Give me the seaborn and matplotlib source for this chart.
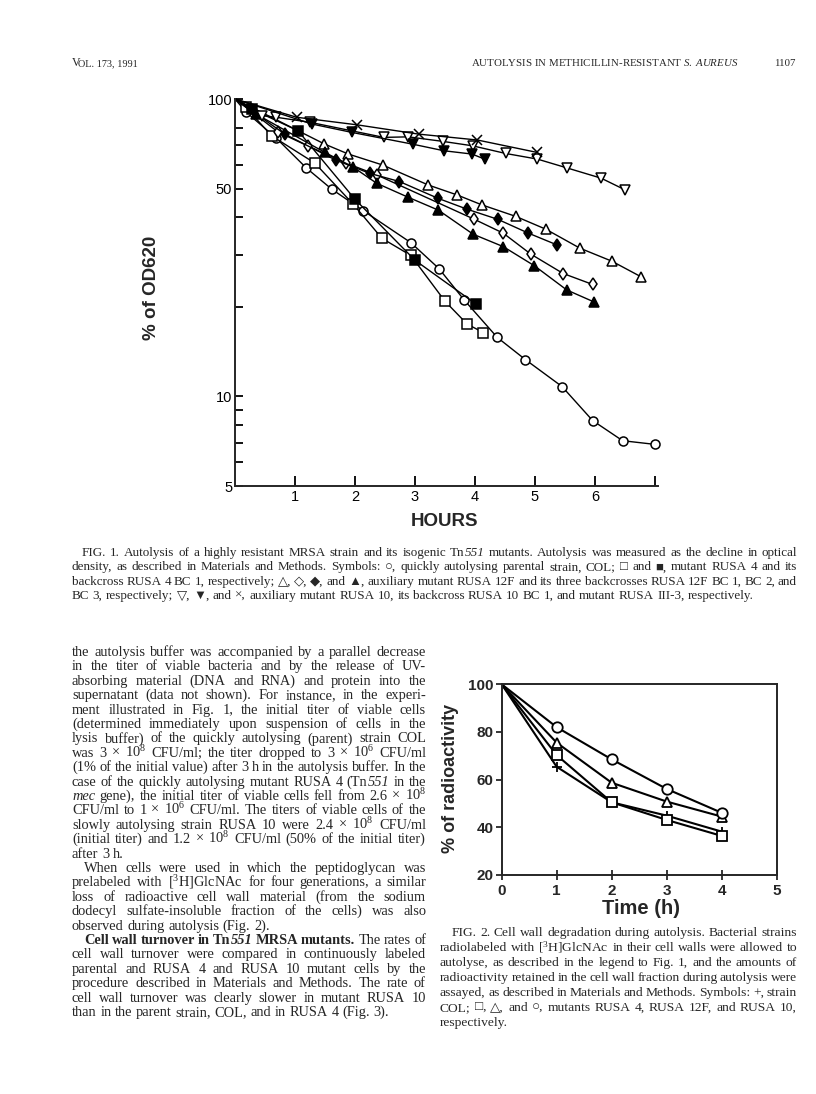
import matplotlib
matplotlib.use("Agg")
import matplotlib.pyplot as plt
import seaborn as sns

# ---- Fig. 1 data (hours, % of OD620) ----
col_h = [0, 0.18, 0.69, 1.19, 1.61, 2.14, 2.93, 3.40, 3.82, 4.37, 4.84, 5.45, 5.96, 6.46, 7.0]
col_pct = [100, 90.6, 73.8, 58.6, 49.8, 42.1, 32.9, 26.9, 21.1, 15.8, 13.3, 10.8, 8.3, 7.1, 6.9]
rusa4_h = [0, 0.18, 0.61, 1.33, 1.97, 2.45, 2.93, 3.50, 3.87, 4.14]
rusa4_pct = [100, 93.8, 75.2, 60.9, 44.3, 34.0, 29.8, 20.9, 17.5, 16.4]
rusa4bc1_h = [0, 0.28, 1.05, 2.0, 3.0, 4.01]
rusa4bc1_pct = [100, 92.5, 78.2, 46.0, 28.7, 20.5]
r12f_h = [0, 1.49, 1.89, 2.46, 3.22, 3.70, 4.11, 4.68, 5.18, 5.75, 6.28, 6.76]
r12f_pct = [100, 70.6, 65.3, 60.0, 51.4, 47.6, 44.1, 40.3, 36.5, 31.5, 28.5, 25.3]
r12fbc1_h = [0, 0.72, 1.21, 1.85, 2.36, 3.99, 4.47, 4.93, 5.47, 5.96]
r12fbc1_pct = [100, 77.4, 69.6, 60.9, 55.6, 39.4, 35.4, 30.1, 25.9, 23.8]
r12fbc2_h = [0, 0.83, 1.68, 2.25, 2.74, 3.39, 3.87, 4.38, 4.89, 5.37]
r12fbc2_pct = [100, 76.2, 62.3, 56.2, 52.8, 46.3, 42.6, 39.4, 35.4, 32.3]
r12fbc3_h = [0, 0.35, 1.50, 1.96, 2.36, 2.89, 3.39, 3.97, 4.47, 4.99, 5.53, 5.98]
r12fbc3_pct = [100, 89.0, 66.1, 59.2, 52.1, 46.7, 42.3, 35.1, 31.9, 27.5, 22.8, 20.8]
r10_h = [0, 0.45, 0.69, 1.25, 2.48, 2.89, 3.47, 3.96, 4.51, 5.04, 5.54, 6.10, 6.50]
r10_pct = [100, 87.9, 86.8, 83.5, 74.3, 74.6, 72.0, 69.6, 65.6, 62.8, 58.6, 54.2, 49.5]
r10bc1_h = [0, 1.28, 1.95, 2.96, 3.48, 3.95, 4.16]
r10bc1_pct = [100, 82.4, 77.2, 70.5, 67.0, 65.3, 62.8]
r3_h = [0, 1.03, 2.03, 3.06, 4.04, 5.04]
r3_pct = [100, 86.8, 81.9, 76.2, 72.8, 66.1]

# ---- Fig. 2 data (hours, % of radioactivity) ----
fig2_h = [0, 1, 2, 3, 4]
col_rad = [100, 65.4, 50.5, 44.9, 38.2]
rusa4_rad = [100, 70.3, 50.5, 43.1, 36.4]
r12f_rad = [100, 75.5, 58.7, 50.8, 44.5]
r10_rad = [100, 82.0, 68.5, 56.1, 46.1]

# ---- page text ('>' indent, '|' last line of paragraph, '~' glue, '*' bold, '/' italic) ----
body_lines = [
    "the autolysis buffer was accompanied by a parallel decrease",
    "in the titer of viable bacteria and by the release of UV-",
    "absorbing material (DNA and RNA) and protein into the",
    "supernatant (data not shown). For instance, in the experi-",
    "ment illustrated in Fig. 1, the initial titer of viable cells",
    "(determined immediately upon suspension of cells in the",
    "lysis buffer) of the quickly autolysing (parent) strain COL",
    "was 3 × 10$^8$ CFU/ml; the titer dropped to 3 × 10$^6$ CFU/ml",
    "(1% of the initial value) after 3 h in the autolysis buffer. In the",
    "case of the quickly autolysing mutant RUSA 4 (Tn~/551 in the",
    "/mec gene), the initial titer of viable cells fell from 2.6 × 10$^8$",
    "CFU/ml to 1 × 10$^6$ CFU/ml. The titers of viable cells of the",
    "slowly autolysing strain RUSA 10 were 2.4 × 10$^8$ CFU/ml",
    "(initial titer) and 1.2 × 10$^8$ CFU/ml (50% of the initial titer)",
    "after 3 h.|",
    ">When cells were used in which the peptidoglycan was",
    "prelabeled with [$^3$H]GlcNAc for four generations, a similar",
    "loss of radioactive cell wall material (from the sodium",
    "dodecyl sulfate-insoluble fraction of the cells) was also",
    "observed during autolysis (Fig. 2).|",
    ">*Cell *wall *turnover *in *Tn~*/551 *MRSA *mutants. The rates of",
    "cell wall turnover were compared in continuously labeled",
    "parental and RUSA 4 and RUSA 10 mutant cells by the",
    "procedure described in Materials and Methods. The rate of",
    "cell wall turnover was clearly slower in mutant RUSA 10",
    "than in the parent strain, COL, and in RUSA 4 (Fig. 3).|",
]
fig1_caption = [
    ">FIG. 1. Autolysis of a highly resistant MRSA strain and its isogenic Tn~/551 mutants. Autolysis was measured as the decline in optical",
    "density, as described in Materials and Methods. Symbols: ○, quickly autolysing parental strain, COL; □ and ■, mutant RUSA 4 and its",
    "backcross RUSA 4 BC 1, respectively; △, ◇, ◆, and ▲, auxiliary mutant RUSA 12F and its three backcrosses RUSA 12F BC 1, BC 2, and",
    "BC 3, respectively; ▽, ▼, and ×, auxiliary mutant RUSA 10, its backcross RUSA 10 BC 1, and mutant RUSA III-3, respectively.|",
]
fig2_caption = [
    ">FIG. 2. Cell wall degradation during autolysis. Bacterial strains",
    "radiolabeled with [$^3$H]GlcNAc in their cell walls were allowed to",
    "autolyse, as described in the legend to Fig. 1, and the amounts of",
    "radioactivity retained in the cell wall fraction during autolysis were",
    "assayed, as described in Materials and Methods. Symbols: +, strain",
    "COL; □, △, and ○, mutants RUSA 4, RUSA 12F, and RUSA 10,",
    "respectively.|",
]

W, H = 816, 1094
sns.set_style("ticks")
plt.rcParams["font.family"] = ["Liberation Sans", "DejaVu Sans"]
plt.rcParams["mathtext.fontset"] = "custom"
plt.rcParams["mathtext.rm"] = "Liberation Serif"
plt.rcParams["mathtext.it"] = "Liberation Serif:italic"
plt.rcParams["mathtext.bf"] = "Liberation Serif:bold"
SERIF = ["Liberation Serif", "DejaVu Sans"]

fig = plt.figure(figsize=(W / 100, H / 100), dpi=100)
fig.patch.set_facecolor("white")
renderer = fig.canvas.get_renderer()


def make_word(word, size, y):
    segs = []
    for seg in word.split("~"):
        weight, style = "normal", "normal"
        while len(seg) > 1 and seg[0] in "*/":
            if seg[0] == "*":
                weight = "bold"
            else:
                style = "italic"
            seg = seg[1:]
        segs.append(fig.text(0, 1 - y / H, seg, fontsize=size, family=SERIF,
                             fontweight=weight, fontstyle=style, va="baseline", ha="left"))
    widths = [t.get_window_extent(renderer).width for t in segs]
    return segs, widths


def parse(line):
    justify = not line.endswith("|")
    line = line.rstrip("|")
    indented = line.startswith(">")
    return line.lstrip(">").split(), justify, indented


def natural_width(line, size):
    words, justify, indented = parse(line)
    total = 0
    for w in words:
        segs, widths = make_word(w, size, 0)
        total += sum(widths)
        for t in segs:
            t.remove()
    return total, len(words), justify, indented


def put_block(lines, x0, x1, y0, dy, base, indent=12, min_space=0.22):
    # pick the size that lets the tightest justified line fit
    size = base
    for ln in lines:
        total, n, justify, indented = natural_width(ln, base)
        if not justify:
            continue
        avail = x1 - x0 - (indent if indented else 0)
        need = total + (n - 1) * min_space * base * 100 / 72
        size = min(size, base * avail / need)
    for i, ln in enumerate(lines):
        words, justify, indented = parse(ln)
        y = y0 + i * dy
        start = x0 + (indent if indented else 0)
        built = [make_word(w, size, y) for w in words]
        wsum = sum(sum(wd) for _, wd in built)
        gap = 0.25 * size * 100 / 72
        if justify and len(built) > 1:
            gap = (x1 - start - wsum) / (len(built) - 1)
        x = start
        for segs, widths in built:
            for t, wd in zip(segs, widths):
                t.set_x(x / W)
                x += wd
            x += gap


# ---- running head ----
fig.text(72 / W, 1 - 66 / H, "V", fontsize=8.5, family=SERIF, va="baseline")
fig.text(78.5 / W, 1 - 66 / H, "OL. 173, 1991", fontsize=7.4, family=SERIF, va="baseline")
fig.text(738 / W, 1 - 66 / H,
         "AUTOLYSIS IN METHICILLIN-RESISTANT $\\mathit{S.}$ $\\mathit{AUREUS}$",
         fontsize=7.8, family=SERIF, va="baseline", ha="right")
fig.text(796 / W, 1 - 66 / H, "1107", fontsize=7.8, family=SERIF, va="baseline", ha="right")

# ---- Fig. 1 ----
ax1 = fig.add_axes([235 / W, 1 - 486 / H, (658 - 235) / W, (486 - 99) / H])
fig1_series = [
    (col_h, col_pct, "o", "white"),
    (rusa4_h, rusa4_pct, "s", "white"),
    (rusa4bc1_h, rusa4bc1_pct, "s", "black"),
    (r12f_h, r12f_pct, "^", "white"),
    (r12fbc1_h, r12fbc1_pct, "d", "white"),
    (r12fbc2_h, r12fbc2_pct, "d", "black"),
    (r12fbc3_h, r12fbc3_pct, "^", "black"),
    (r10_h, r10_pct, "v", "white"),
    (r10bc1_h, r10bc1_pct, "v", "black"),
    (r3_h, r3_pct, "x", "black"),
]
for hx, py, mk, fc in fig1_series:
    # no marker at the common 100 % start point
    sns.lineplot(x=hx, y=py, ax=ax1, color="black", linewidth=1.0, marker=mk,
                 markevery=list(range(1, len(hx))), markersize=6.5,
                 markerfacecolor=fc, markeredgecolor="black", markeredgewidth=1.1,
                 sort=False, estimator=None, clip_on=False)
ax1.set_yscale("log")
ax1.set_ylim(5, 100)
ax1.set_xlim(0, 7.05)
ax1.set_yticks([5, 10, 50, 100])
ax1.set_yticklabels(["5", "10", "50", "100"])
ax1.set_yticks([6, 7, 8, 9, 20, 30, 40, 60, 70, 80], minor=True)
ax1.yaxis.set_minor_formatter(matplotlib.ticker.NullFormatter())
ax1.set_xticks([1, 2, 3, 4, 5, 6, 7])
ax1.set_xticklabels(["1", "2", "3", "4", "5", "6", ""])
ax1.tick_params(which="both", direction="in", width=1.3, colors="black", labelsize=10.5)
ax1.tick_params(axis="x", length=7, pad=3)
ax1.tick_params(axis="y", which="major", length=6, pad=2)
ax1.tick_params(axis="y", which="minor", length=6)
for s in ["top", "right"]:
    ax1.spines[s].set_visible(False)
for s in ["left", "bottom"]:
    ax1.spines[s].set_linewidth(1.4)
ax1.set_xlabel("")
ax1.set_ylabel("")
fig.text(152 / W, 1 - 288 / H, "% of OD620", rotation=90, fontsize=13.5,
         fontweight="bold", ha="center", va="center")
fig.text(445 / W, 1 - 521 / H, "HOURS", fontsize=13.5, fontweight="bold",
         ha="center", va="center")

put_block(fig1_caption, 72, 797, 556, 14.3, 10.5, indent=10)

# ---- body text ----
put_block(body_lines, 72, 426, 656, 14.4, 11.5, indent=12)

# ---- Fig. 2 ----
ax2 = fig.add_axes([501.7 / W, 1 - 875 / H, 275 / W, 190.7 / H])
fig2_series = [
    (col_rad, "+"),
    (rusa4_rad, "s"),
    (r12f_rad, "^"),
    (r10_rad, "o"),
]
for py, mk in fig2_series:
    sns.lineplot(x=fig2_h, y=py, ax=ax2, color="black", linewidth=1.5, marker=mk,
                 markevery=[1, 2, 3, 4], markersize=7.5, markerfacecolor="white",
                 markeredgecolor="black", markeredgewidth=1.3, sort=False, estimator=None)
ax2.set_xlim(0, 5)
ax2.set_ylim(20, 100)
ax2.set_xticks([0, 1, 2, 3, 4, 5])
ax2.set_yticks([20, 40, 60, 80, 100])
ax2.tick_params(axis="x", direction="inout", length=7, width=1.3, pad=3, labelsize=11)
ax2.tick_params(axis="y", direction="out", length=4, width=1.3, pad=2, labelsize=11)
for lab in ax2.get_xticklabels() + ax2.get_yticklabels():
    lab.set_fontweight("bold")
for s in ax2.spines.values():
    s.set_linewidth(1.4)
ax2.set_xlabel("")
ax2.set_ylabel("")
fig.text(450 / W, 1 - 778 / H, "% of radioactivity", rotation=90, fontsize=13,
         fontweight="bold", ha="center", va="center")
fig.text(641 / W, 1 - 908 / H, "Time (h)", fontsize=14.5, fontweight="bold",
         ha="center", va="center")

put_block(fig2_caption, 440, 797, 936, 15.0, 10.5, indent=12)

fig.savefig("out.png", dpi=100, facecolor="white")
